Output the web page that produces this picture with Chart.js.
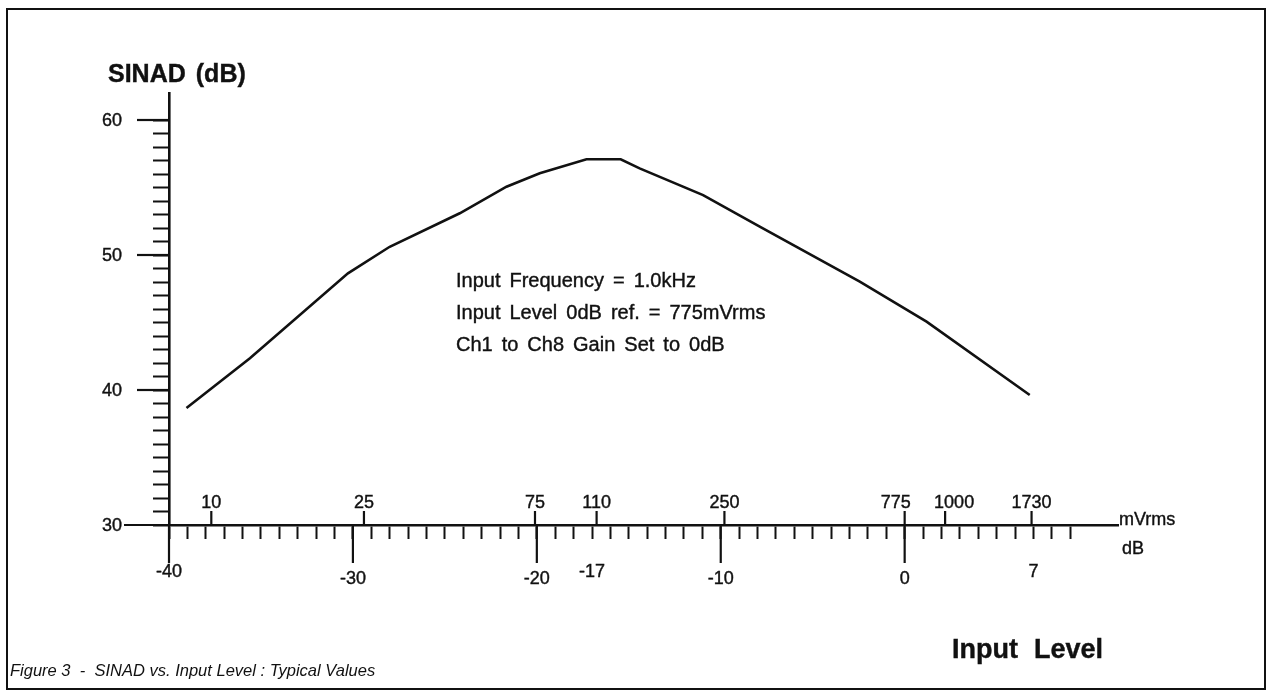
<!DOCTYPE html>
<html>
<head>
<meta charset="utf-8">
<title>SINAD vs. Input Level</title>
<script src="https://cdn.jsdelivr.net/npm/chart.js@4.4.0/dist/chart.umd.min.js"></script>
<style>
  html, body { margin: 0; padding: 0; background: #fff; }
  #wrap { width: 1267px; height: 696px; }
</style>
</head>
<body>
<div id="wrap"><canvas id="sinadChart" width="1267" height="696"></canvas></div>
<script>
// input level in dB (0dB ref = 775mVrms)
const inputLevelDb = [-39.05, -35.6, -30.27, -28.0, -24.19, -21.65, -19.84, -17.3, -15.44, -14.41, -10.96, -7.88, -2.44, 1.19, 6.8];
// SINAD in dB at those points
const sinadDb = [38.67, 42.35, 48.64, 50.61, 53.09, 55.06, 56.05, 57.09, 57.09, 56.42, 54.44, 52.1, 48.02, 45.06, 39.63];

// tick labels
const yLabels = [30, 40, 50, 60];
const dbLabels = [-40, -30, -20, -17, -10, 0, 7];
const dbMajorTicks = [-40, -30, -20, -10, 0];
// mVrms scale drawn on top of the dB axis, with where each mark sits in dB
const mvLabels = ['10', '25', '75', '110', '250', '775', '1000', '1730'];
const mvPositionsDb = [-37.7, -29.4, -20.1, -16.75, -9.8, 0, 2.2, 6.9];

const notes = ['Input Frequency = 1.0kHz', 'Input Level 0dB ref. = 775mVrms', 'Ch1 to Ch8 Gain Set to 0dB'];

const INK = '#111';
const FONT = '"Liberation Sans", Arial, Helvetica, sans-serif';

// draws text word by word so the wide word gaps of the original can be kept
function drawSpaced(ctx, text, x, y, gap, heavy) {
    let cx = x;
    text.split(' ').forEach(w => {
        if (w) {
            ctx.fillText(w, cx, y);
            if (heavy) ctx.strokeText(w, cx, y);
        }
        cx += ctx.measureText(w).width + gap;
    });
}

function label(ctx, text, x, y) {
    ctx.fillText(text, x, y);
    ctx.strokeText(text, x, y);
}

const decor = {
    id: 'decor',
    afterDraw(chart) {
        const ctx = chart.ctx;
        const xs = chart.scales.x;
        const ys = chart.scales.y;
        const axisY = ys.getPixelForValue(30);
        const axisX = xs.getPixelForValue(-40);

        ctx.save();
        ctx.strokeStyle = INK;
        ctx.fillStyle = INK;

        // frame round the figure
        ctx.lineWidth = 2;
        ctx.strokeRect(7, 9, 1258, 680);

        // long ticks on the y axis
        ctx.lineWidth = 2.2;
        yLabels.forEach(v => {
            const py = ys.getPixelForValue(v);
            const len = v === 30 ? 45 : 32;
            ctx.beginPath();
            ctx.moveTo(axisX - len, py);
            ctx.lineTo(axisX, py);
            ctx.stroke();
        });

        // long ticks under the dB axis
        dbMajorTicks.forEach(v => {
            const px = xs.getPixelForValue(v);
            ctx.beginPath();
            ctx.moveTo(px, axisY);
            ctx.lineTo(px, axisY + 38);
            ctx.stroke();
        });

        // mVrms ticks above the axis
        mvPositionsDb.forEach(d => {
            const px = xs.getPixelForValue(d);
            ctx.beginPath();
            ctx.moveTo(px, axisY);
            ctx.lineTo(px, axisY - 14);
            ctx.stroke();
        });

        // tick labels (slightly heavy, like the scanned print)
        ctx.lineWidth = 0.4;
        ctx.font = '18px ' + FONT;
        ctx.textAlign = 'right';
        ctx.textBaseline = 'middle';
        yLabels.forEach(v => label(ctx, String(v), axisX - 47, ys.getPixelForValue(v) + 1));

        ctx.textAlign = 'center';
        const lift = { '-40': -7, '7': -7, '-17': -7 };
        dbLabels.forEach(v => {
            label(ctx, String(v), xs.getPixelForValue(v), axisY + 54 + (lift[v] || 0));
        });

        const nudge = { '775': -9, '1000': 9 };
        mvLabels.forEach((lab, i) => {
            label(ctx, lab, xs.getPixelForValue(mvPositionsDb[i]) + (nudge[lab] || 0), axisY - 22);
        });

        // unit names at the end of the axis
        ctx.textAlign = 'left';
        ctx.textBaseline = 'alphabetic';
        label(ctx, 'mVrms', xs.right + 1, axisY);
        ctx.textBaseline = 'middle';
        label(ctx, 'dB', xs.right + 4, axisY + 24);

        // notes in the plot
        ctx.font = '20px ' + FONT;
        notes.forEach((t, i) => drawSpaced(ctx, t, 456, 281 + i * 32, 9, true));

        // axis titles
        ctx.font = 'bold 25px ' + FONT;
        drawSpaced(ctx, 'SINAD  (dB)', 108, 75, 5, true);
        ctx.font = 'bold 27px ' + FONT;
        drawSpaced(ctx, 'Input  Level', 952, 651, 8, true);

        // caption
        ctx.font = 'italic 16.5px ' + FONT;
        drawSpaced(ctx, 'Figure 3  -  SINAD vs. Input Level : Typical Values', 10, 671, 4.6, false);

        ctx.restore();
    }
};

const ctx = document.getElementById('sinadChart').getContext('2d');

new Chart(ctx, {
    type: 'line',
    data: {
        datasets: [{
            label: 'SINAD',
            data: inputLevelDb.map((x, i) => ({ x: x, y: sinadDb[i] })),
            borderColor: INK,
            borderWidth: 2.6,
            pointRadius: 0,
            tension: 0,
            fill: false
        }]
    },
    options: {
        responsive: false,
        animation: false,
        layout: { padding: { left: 169, top: 93, right: 149, bottom: 171 } },
        plugins: {
            legend: { display: false },
            tooltip: { enabled: false }
        },
        scales: {
            x: {
                type: 'linear',
                min: -40,
                max: 11.6,
                afterFit: s => { s.height = 0; },
                ticks: { display: false, stepSize: 1, includeBounds: false, autoSkip: false },
                grid: {
                    drawOnChartArea: false,
                    tickLength: 14,
                    tickWidth: 2,
                    tickColor: c => (c.tick && c.tick.value > 9) ? 'rgba(0,0,0,0)' : INK
                },
                border: { color: INK, width: 2.6 }
            },
            y: {
                type: 'linear',
                min: 30,
                max: 62,
                afterFit: s => { s.width = 0; },
                ticks: { display: false, stepSize: 1, includeBounds: false, autoSkip: false },
                grid: {
                    drawOnChartArea: false,
                    tickLength: 16,
                    tickWidth: 2,
                    tickColor: c => (c.tick && c.tick.value > 60) ? 'rgba(0,0,0,0)' : INK
                },
                border: { color: INK, width: 2.6 }
            }
        }
    },
    plugins: [decor]
});
</script>
</body>
</html>
